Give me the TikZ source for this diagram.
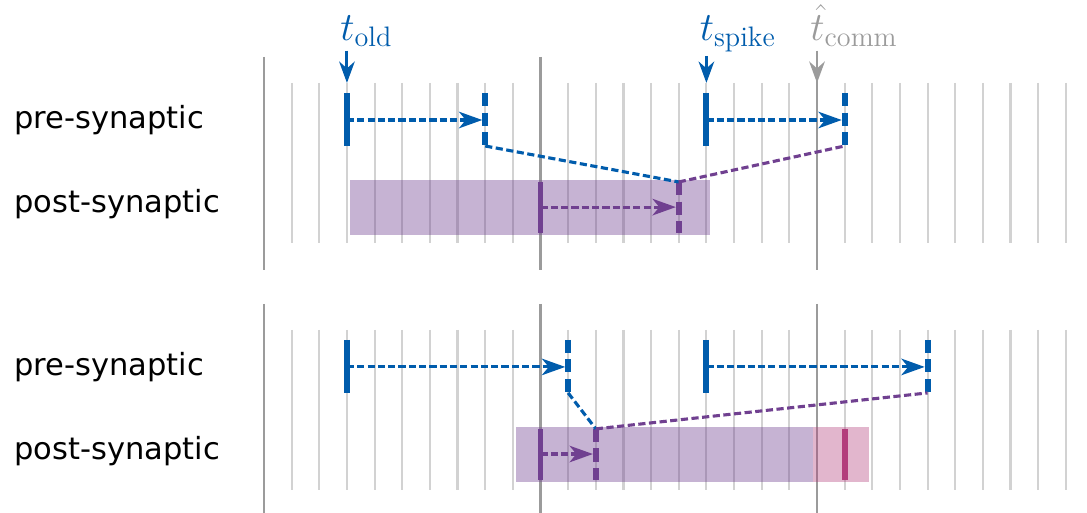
\RequirePackage{fix-cm}
\documentclass[tikz,border=0pt]{standalone}
\usepackage{fontspec}
\newfontfamily\labelfont{DejaVu Sans}
\usetikzlibrary{arrows.meta}

\definecolor{spikeblue}{RGB}{0,92,172}
\definecolor{postpurple}{RGB}{112,64,144}
\definecolor{lostpink}{RGB}{178,62,124}
\definecolor{tickgray}{RGB}{210,210,210}
\definecolor{commgray}{RGB}{155,155,155}

\begin{document}
\begin{tikzpicture}[x=0.5cm, y=0.5cm,
    tick/.style={tickgray, line width=1.1pt},
    comm/.style={commgray, line width=1.3pt},
    spike/.style={line width=3pt},
    arrival/.style={line width=3pt, dash pattern=on 6.7pt off 3.4pt},
    delay/.style={line width=1.6pt, dash pattern=on 3.7pt off 1.6pt, shorten >=1.5pt, -{Stealth[length=12pt,width=8.5pt,inset=3.5pt]}},
    link/.style={line width=1.6pt, dash pattern=on 3.7pt off 1.8pt},
    window/.style={fill=postpurple, fill opacity=0.4},
    lostwindow/.style={fill=lostpink, fill opacity=0.38},
    rowlabel/.style={anchor=west, inner sep=0pt, font=\labelfont\fontsize{15.7}{19}\selectfont},
    timelabel/.style={anchor=base west, inner sep=0pt, font=\fontsize{20.7}{24}\selectfont},
    pointer/.style={line width=1.5pt, shorten <=2pt, -{Stealth[length=11pt,width=8pt,inset=3.5pt]}}
]
\useasboundingbox (-9.548,0) rectangle (29.765,-18.553);

% time grid, both panels
\foreach \dy in {0,-8.93} {
  \foreach \i in {1,...,29}
    \draw[tick] (\i,-3.00+\dy) -- (\i,-8.79+\dy);
  \foreach \i in {0,10,20}
    \draw[comm] (\i,-2.06+\dy) -- (\i,-9.76+\dy);
}

% row labels
\node[rowlabel] (preA) at (-9.04,-4.34) {pre-synaptic};
\node[rowlabel] (postA) at (-9.04,-7.38) {post-synaptic};
\node[rowlabel] (preB) at (-9.04,-13.27) {pre-synaptic};
\node[rowlabel] (postB) at (-9.04,-16.31) {post-synaptic};

% time labels
\node[timelabel, spikeblue] (told) at (2.75,-1.45) {$t_{\mathrm{old}}$};
\node[timelabel, spikeblue] (tspike) at (15.75,-1.45) {$t_{\mathrm{spike}}$};
\node[timelabel, commgray] (tcomm) at (19.75,-1.45) {$\hat{t}_{\mathrm{comm}}$};
\coordinate (oldTip) at (3,-3.0);
\coordinate (spikeTip) at (16,-3.0);
\coordinate (commTip) at (20,-3.0);
\draw[pointer, spikeblue] (told.south -| oldTip) -- (oldTip);
\draw[pointer, spikeblue] (tspike.south -| spikeTip) -- (spikeTip);
\draw[pointer, commgray] (tcomm.south -| commTip) -- (commTip);

% ---- upper panel ----
\fill[window] (3.1,-6.51) rectangle (16.13,-8.50);

\coordinate (a1) at (3,-4.34);  \coordinate (a1d) at (8,-4.34);
\coordinate (a2) at (16,-4.34); \coordinate (a2d) at (21,-4.34);
\coordinate (p1) at (10,-7.49); \coordinate (p1d) at (15,-7.49);

\draw[delay, spikeblue] (a1) -- (a1d);
\draw[delay, spikeblue] (a2) -- (a2d);
\draw[delay, postpurple] (p1) -- (p1d);

\draw[spike, spikeblue] (3,-3.36) -- (3,-5.28);
\draw[spike, spikeblue] (16,-3.36) -- (16,-5.28);
\draw[arrival, spikeblue] (8,-3.36) coordinate (a1top) -- (8,-5.28) coordinate (a1bot);
\draw[arrival, spikeblue] (21,-3.36) coordinate (a2top) -- (21,-5.28) coordinate (a2bot);
\draw[spike, postpurple] (10,-6.58) -- (10,-8.43);
\draw[arrival, postpurple] (15,-6.58) coordinate (p1top) -- (15,-8.43) coordinate (p1bot);

\draw[link, spikeblue] (a1bot) -- (p1top);
\draw[link, postpurple] (p1top) -- (a2bot);

% ---- lower panel ----
\fill[window] (9.1,-15.44) rectangle (19.86,-17.43);
\fill[lostwindow] (19.86,-15.44) rectangle (21.88,-17.43);

\coordinate (b1) at (3,-13.27);  \coordinate (b1d) at (11,-13.27);
\coordinate (b2) at (16,-13.27); \coordinate (b2d) at (24,-13.27);
\coordinate (q1) at (10,-16.42); \coordinate (q1d) at (12,-16.42);

\draw[delay, spikeblue] (b1) -- (b1d);
\draw[delay, spikeblue] (b2) -- (b2d);
\draw[delay, postpurple] (q1) -- (q1d);

\draw[spike, spikeblue] (3,-12.29) -- (3,-14.21);
\draw[spike, spikeblue] (16,-12.29) -- (16,-14.21);
\draw[arrival, spikeblue] (11,-12.29) coordinate (b1top) -- (11,-14.21) coordinate (b1bot);
\draw[arrival, spikeblue] (24,-12.29) coordinate (b2top) -- (24,-14.21) coordinate (b2bot);
\draw[spike, postpurple] (10,-15.51) -- (10,-17.36);
\draw[arrival, postpurple] (12,-15.51) coordinate (q1top) -- (12,-17.36) coordinate (q1bot);
\draw[spike, lostpink] (21,-15.51) -- (21,-17.36);

\draw[link, spikeblue] (b1bot) -- (q1top);
\draw[link, postpurple] (q1top) -- (b2bot);
\end{tikzpicture}
\end{document}
